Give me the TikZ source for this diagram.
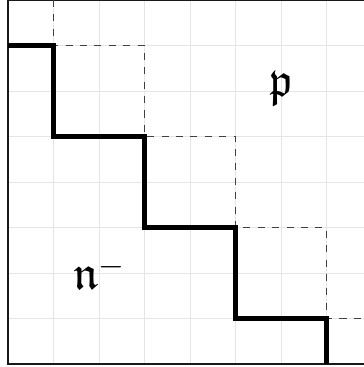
\documentclass[tikz,border=0pt]{standalone}
\usepackage{amssymb}
\begin{document}
\begin{tikzpicture}[x=1cm,y=1cm,
  gridline/.style={draw=black!10,line width=0.5pt},
  frameline/.style={draw=black!90,line width=0.8pt},
  stairline/.style={draw=black,line width=2.6pt},
  dashline/.style={draw=black!75,line width=0.85pt,dash pattern=on 4.4pt off 4.6pt},
  lbl/.style={font=\fontsize{30}{36}\selectfont}]
\useasboundingbox (-0.176,-0.066) rectangle (7.824,8.0);
\clip (-0.176,-0.066) rectangle (7.824,8.0);
\draw[gridline] (0,0) grid (8,8);
\draw[frameline] (8.5,8) -- (0,8) -- (0,0) -- (8.5,0);
\draw[dashline] (1,8) -- (1,7) -- (3,7) -- (3,5) -- (5,5) -- (5,3) -- (7,3) -- (7,1) -- (8.5,1);
\draw[stairline] (0,7) -- (1,7) -- (1,5) -- (3,5) -- (3,3) -- (5,3) -- (5,1) -- (7,1) -- (7,0);
\node[lbl] (p) at (6,6.05) {$\mathfrak{p}$};
\node[lbl] (n) at (2,2.0) {$\mathfrak{n}^-$};
\end{tikzpicture}
\end{document}
